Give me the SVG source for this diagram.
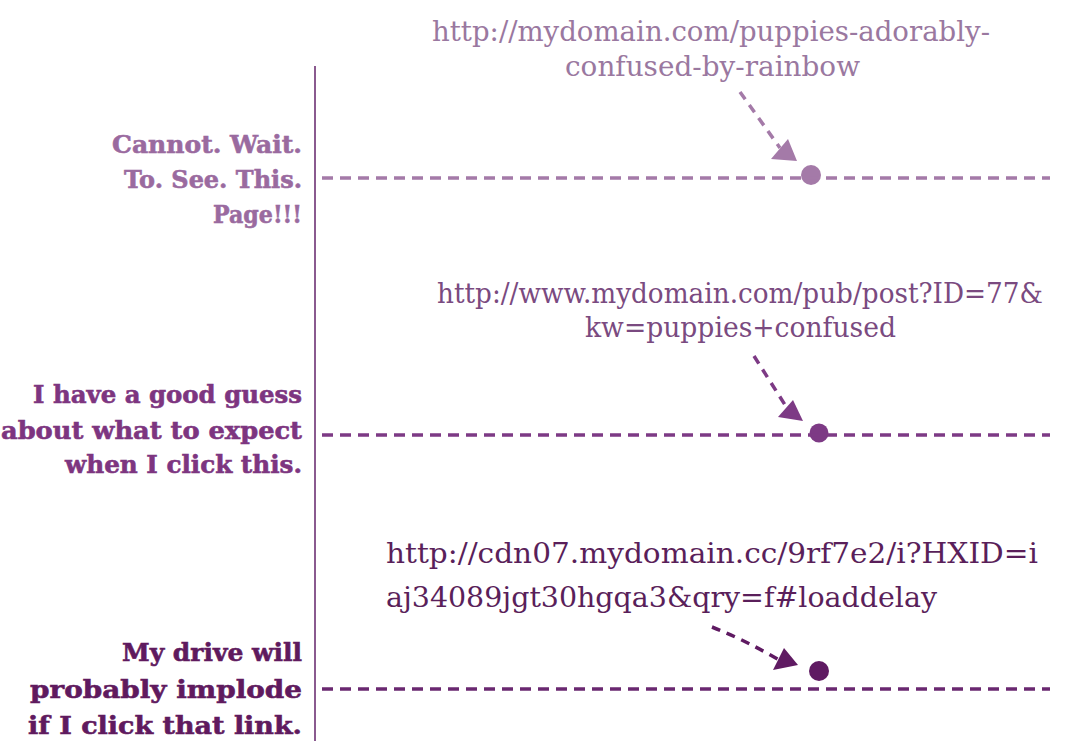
<svg xmlns="http://www.w3.org/2000/svg" width="1066" height="741" viewBox="0 0 1066 741">
<style>
.lbl{font-family:"DejaVu Serif","Liberation Serif",serif;font-weight:bold;font-size:25px;text-anchor:end;stroke-width:0.6}
.url{font-family:"DejaVu Serif","Liberation Serif",serif;font-size:27px}
.dash{fill:none;stroke-width:3.5;stroke-dasharray:11 7}
.arr{fill:none;stroke-width:3.5;stroke-dasharray:9 7}
</style>
<rect width="1066" height="741" fill="#ffffff"/>
<line x1="315" y1="66" x2="315" y2="741" stroke="#8a5a8f" stroke-width="2"/>
<g id="row1">
<g id="label1" class="lbl" fill="#9a6a9f" stroke="#9a6a9f">
<text x="302" y="153" textLength="190" lengthAdjust="spacingAndGlyphs">Cannot. Wait.</text>
<text x="302" y="188" textLength="178" lengthAdjust="spacingAndGlyphs">To. See. This.</text>
<text x="302" y="223" textLength="89" lengthAdjust="spacingAndGlyphs">Page!!!</text>
</g>
<g id="url1" class="url" fill="#9a78a0">
<text x="432" y="41" textLength="558" lengthAdjust="spacingAndGlyphs">http://mydomain.com/puppies-adorably-</text>
<text x="565" y="76" textLength="295" lengthAdjust="spacingAndGlyphs">confused-by-rainbow</text>
</g>
<circle id="dot1" cx="811" cy="175" r="10" fill="#a47aa8"/>
</g>
<g id="row2">
<g id="label2" class="lbl" fill="#7d3580" stroke="#7d3580">
<text x="302" y="403" textLength="269" lengthAdjust="spacingAndGlyphs">I have a good guess</text>
<text x="302" y="439" textLength="301" lengthAdjust="spacingAndGlyphs">about what to expect</text>
<text x="302" y="473" textLength="237" lengthAdjust="spacingAndGlyphs">when I click this.</text>
</g>
<g id="url2" class="url" fill="#7a4a80">
<text x="437" y="303" textLength="606" lengthAdjust="spacingAndGlyphs">http://www.mydomain.com/pub/post?ID=77&amp;</text>
<text x="585" y="337" textLength="311" lengthAdjust="spacingAndGlyphs">kw=puppies+confused</text>
</g>
<circle id="dot2" cx="819" cy="433" r="9.5" fill="#7d3a85"/>
</g>
<g id="row3">
<g id="label3" class="lbl" fill="#5f1a5e" stroke="#5f1a5e">
<text x="302" y="661" textLength="180" lengthAdjust="spacingAndGlyphs">My drive will</text>
<text x="302" y="698" textLength="272" lengthAdjust="spacingAndGlyphs">probably implode</text>
<text x="302" y="734" textLength="274" lengthAdjust="spacingAndGlyphs">if I click that link.</text>
</g>
<g id="url3" class="url" fill="#5a1f5a" style="font-size:28px">
<text x="386" y="563" textLength="652" lengthAdjust="spacingAndGlyphs">http://cdn07.mydomain.cc/9rf7e2/i?HXID=i</text>
<text x="386" y="607" textLength="551" lengthAdjust="spacingAndGlyphs">aj34089jgt30hgqa3&amp;qry=f#loaddelay</text>
</g>
<circle id="dot3" cx="819" cy="671" r="10" fill="#5f1a62"/>
</g>
<g id="connectors">
<line class="dash" x1="322" y1="178" x2="1050" y2="178" stroke="#a47aa8"/>
<line class="dash" x1="322" y1="435" x2="1050" y2="435" stroke="#7d3a85"/>
<line class="dash" x1="322" y1="689" x2="1050" y2="689" stroke="#6a2870"/>
<path class="arr" d="M740 92 L780 148" stroke="#a47aa8"/>
<polygon points="797,161 771,159 788,139" fill="#a47aa8"/>
<path class="arr" d="M754 356 L787 408" stroke="#7d3a85"/>
<polygon points="803,421 778,417 793,400" fill="#7d3a85"/>
<path class="arr" d="M712 627 Q745 640 779 660" stroke="#5f1a62"/>
<polygon points="798,665 773,670 784,648" fill="#5f1a62"/>
</g>
</svg>
